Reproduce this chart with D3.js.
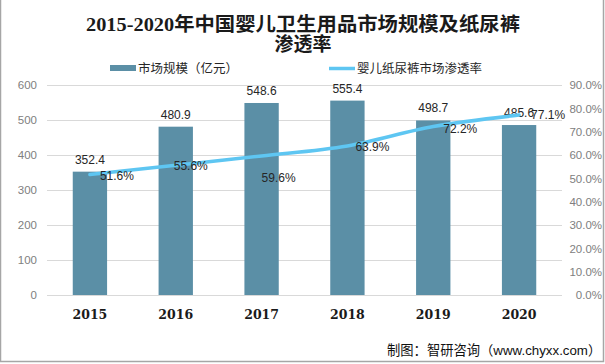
<!DOCTYPE html>
<html><head><meta charset="utf-8">
<script src="https://cdn.jsdelivr.net/npm/d3@7"></script>
<style>body{margin:0;background:#fff}svg{display:block}</style>
</head><body>
<svg id="c" width="605" height="364"></svg>
<script>
const years = ["2015","2016","2017","2018","2019","2020"];
const marketSize = [352.4, 480.9, 548.6, 555.4, 498.7, 485.6];
const penetration = [51.6, 55.6, 59.6, 63.9, 72.2, 77.1];
const leftTicks = [0,100,200,300,400,500,600];
const rightTicks = [0,10,20,30,40,50,60,70,80,90];

const svg = d3.select("#c");
const W = 605, H = 364;
const m = {l:47, r:43, t:85, b:69};
const x = d3.scaleBand().domain(years).range([m.l, W - m.r]).paddingInner(0.6).paddingOuter(0.3);
const y = d3.scaleLinear().domain([0,600]).range([H - m.b, m.t]);
const y2 = d3.scaleLinear().domain([0,90]).range([H - m.b, m.t]);

// frame
svg.append("rect").attr("x",0.5).attr("y",-1).attr("width",W-2).attr("height",H-1.5)
  .attr("fill","none").attr("stroke","#a6a6a6").attr("stroke-width",1.5);

// grid
svg.append("g").selectAll("line").data(leftTicks).join("line")
  .attr("x1",m.l).attr("x2",W-m.r).attr("y1",d=>Math.round(y(d))+0.5).attr("y2",d=>Math.round(y(d))+0.5)
  .attr("stroke","#d9d9d9").attr("stroke-width",1);

// left axis
const la = svg.append("g").attr("transform",`translate(${m.l - 10},0)`)
  .call(d3.axisLeft(y).tickValues(leftTicks).tickSize(0).tickPadding(0));
la.select(".domain").remove();
la.selectAll("text").attr("font-family","'Liberation Sans',Arial,sans-serif").attr("font-size",11.5).attr("fill","#808080");

// right axis
const ra = svg.append("g").attr("transform",`translate(${W-3},0)`)
  .call(d3.axisLeft(y2).tickValues(rightTicks).tickSize(0).tickPadding(0).tickFormat(d=>d.toFixed(1)+"%"));
ra.select(".domain").remove();
ra.selectAll("text").attr("font-family","'Liberation Sans',Arial,sans-serif").attr("font-size",11.5).attr("fill","#808080");

// x axis
const xa = svg.append("g").attr("transform",`translate(0,${H-m.b})`)
  .call(d3.axisBottom(x).tickSize(0).tickPadding(15));
xa.select(".domain").remove();
xa.selectAll("text").attr("font-family","'DejaVu Serif',serif").attr("font-weight","bold").attr("font-size",12.5).attr("fill","#1a1a1a");

// bars
const barColor = "#5b8fa6";
svg.append("g").selectAll("rect").data(marketSize).join("rect")
  .attr("x",(d,i)=>x(years[i])).attr("width",x.bandwidth())
  .attr("y",d=>y(d)).attr("height",d=>y(0)-y(d)).attr("fill",barColor);

svg.append("g").selectAll("text").data(marketSize).join("text")
  .attr("x",(d,i)=>x(years[i])+x.bandwidth()/2).attr("y",d=>y(d)-8)
  .attr("text-anchor","middle").attr("font-family","'Liberation Sans',Arial,sans-serif")
  .attr("font-size",12).attr("fill","#262626").text(d=>d.toFixed(1));

// line
const lineColor = "#5ec6f2";
const cx = i => x(years[i]) + x.bandwidth()/2;
const line = d3.line().x((d,i)=>cx(i)).y(d=>y2(d)).curve(d3.curveCatmullRom.alpha(0.5));
svg.append("path").datum(penetration).attr("d",line).attr("fill","none")
  .attr("stroke",lineColor).attr("stroke-width",3.5).attr("stroke-linecap","round");

const lblOff = [[10,5],[-2,5],[0,26],[8,5],[10,6],[12,4]];
svg.append("g").selectAll("text").data(penetration).join("text")
  .attr("x",(d,i)=>cx(i)+lblOff[i][0]).attr("y",(d,i)=>y2(d)+lblOff[i][1])
  .attr("font-family","'Liberation Sans',Arial,sans-serif")
  .attr("font-size",12).attr("fill","#262626").text(d=>d.toFixed(1)+"%");

// title
const tf = "'Liberation Serif','Noto Sans CJK SC',serif";
svg.append("text").attr("x",303).attr("y",31).attr("text-anchor","middle")
  .attr("font-family",tf).attr("font-weight","bold").attr("font-size",19).attr("fill","#1a1a1a")
  .attr("textLength",434).attr("lengthAdjust","spacingAndGlyphs")
  .text("2015-2020年中国婴儿卫生用品市场规模及纸尿裤");
svg.append("text").attr("x",303).attr("y",51).attr("text-anchor","middle")
  .attr("font-family",tf).attr("font-weight","bold").attr("font-size",19).attr("fill","#1a1a1a")
  .text("渗透率");

// legend
const lf = "'Noto Sans CJK SC',sans-serif";
svg.append("rect").attr("x",110).attr("y",65).attr("width",26).attr("height",6).attr("fill",barColor);
svg.append("text").attr("x",138).attr("y",73).attr("font-family",lf).attr("font-size",12.5).attr("fill","#262626").text("市场规模（亿元）");
svg.append("line").attr("x1",329).attr("x2",355).attr("y1",68.5).attr("y2",68.5).attr("stroke",lineColor).attr("stroke-width",3.5);
svg.append("text").attr("x",357).attr("y",73).attr("font-family",lf).attr("font-size",12.5).attr("fill","#262626").text("婴儿纸尿裤市场渗透率");

// footer
svg.append("text").attr("x",387).attr("y",355)
  .attr("font-family","'Liberation Sans','Noto Sans CJK SC',sans-serif").attr("font-size",13.3).attr("fill","#111")
  .text("制图：智研咨询（www.chyxx.com）");
</script>
</body></html>
